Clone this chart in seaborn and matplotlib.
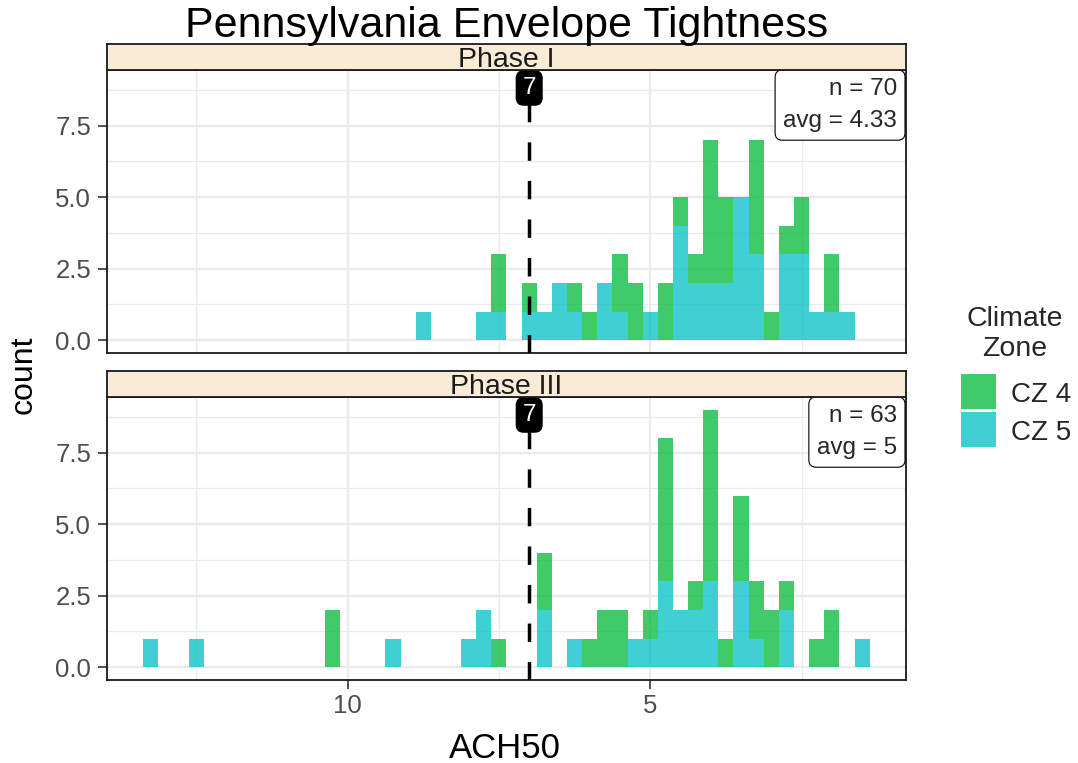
import numpy as np
import pandas as pd
import matplotlib
matplotlib.use("Agg")
import matplotlib.pyplot as plt
from matplotlib.patches import Rectangle
import seaborn as sns

# ---------------- data ----------------
phases = ["Phase I", "Phase III"]
zones = ["CZ 4", "CZ 5"]
zone_colors = ["#00BA38", "#00BFC4"]

# bin centres (ACH50) and counts per climate zone, binwidth 0.25
p1_cz4_ach = [7.5, 7.0, 6.25, 6.0, 5.5, 5.25, 4.75, 4.5, 4.25, 4.0, 3.75, 3.25, 3.0, 2.75, 2.5, 2.0]
p1_cz4_cnt = [2, 1, 1, 1, 2, 2, 2, 1, 1, 5, 3, 4, 1, 1, 2, 2]
p1_cz5_ach = [8.75, 7.75, 7.5, 7.0, 6.75, 6.5, 6.25, 5.75, 5.5, 5.0, 4.5, 4.25, 4.0, 3.75,
              3.5, 3.25, 2.75, 2.5, 2.25, 2.0, 1.75]
p1_cz5_cnt = [1, 1, 1, 1, 1, 2, 1, 2, 1, 1, 4, 2, 2, 2, 5, 3, 3, 3, 1, 1, 1]
p3_cz4_ach = [10.25, 7.5, 6.75, 6.0, 5.75, 5.5, 5.0, 4.75, 4.25, 4.0, 3.75, 3.5, 3.25, 3.0,
              2.75, 2.25, 2.0]
p3_cz4_cnt = [2, 1, 2, 1, 2, 2, 1, 5, 1, 6, 1, 3, 2, 2, 1, 1, 2]
p3_cz5_ach = [13.25, 12.5, 9.25, 8.0, 7.75, 6.75, 6.25, 5.25, 5.0, 4.75, 4.5, 4.25, 4.0, 3.5,
              3.25, 2.75, 1.5]
p3_cz5_cnt = [1, 1, 1, 1, 2, 2, 1, 1, 1, 3, 2, 2, 3, 3, 1, 2, 1]

target_ach = 7
n_labels = [70, 63]
avg_labels = ["4.33", "5"]

x_ticks = [10, 5]
x_ticklabels = ["10", "5"]
y_ticks = [0, 2.5, 5, 7.5]
y_ticklabels = ["0.0", "2.5", "5.0", "7.5"]

# ---------------- table ----------------
rows = []
for ph, (a4, c4, a5, c5) in zip(phases, [(p1_cz4_ach, p1_cz4_cnt, p1_cz5_ach, p1_cz5_cnt),
                                          (p3_cz4_ach, p3_cz4_cnt, p3_cz5_ach, p3_cz5_cnt)]):
    for a, c in zip(a4, c4):
        rows.append((ph, "CZ 4", a, c))
    for a, c in zip(a5, c5):
        rows.append((ph, "CZ 5", a, c))
df = pd.DataFrame(rows, columns=["phase", "zone", "ACH50", "count"])

# ---------------- style ----------------
sns.set_theme(style="white")
plt.rcParams["font.family"] = ["Liberation Sans", "DejaVu Sans"]

W, H = 1078, 763
fig = plt.figure(figsize=(W / 100, H / 100), dpi=100)


def fx(px):
    return px / W


def fy(py):
    return 1 - py / H


L, R = 107, 906
panel_tops = [70, 397]
panel_h = 283
strip_h = 26
grid_c = "#EBEBEB"
tick_fs = 18.5

for i, ph in enumerate(phases):
    top = panel_tops[i]
    ax = fig.add_axes([fx(L), fy(top + panel_h), fx(R) - fx(L), panel_h / H])
    sub = df[df["phase"] == ph]
    sns.histplot(data=sub, x="ACH50", weights="count", hue="zone", hue_order=zones,
                 palette=zone_colors, multiple="stack", binwidth=0.25,
                 binrange=(1.375, 13.375), alpha=0.75,
                 linewidth=0, legend=False, ax=ax, zorder=2)
    ax.set_xlim(13.975, 0.775)
    ax.set_ylim(-0.45, 9.45)
    ax.set_facecolor("white")
    ax.set_axisbelow(True)
    ax.set_xticks(x_ticks)
    ax.set_xticks([12.5, 7.5, 2.5], minor=True)
    ax.set_yticks(y_ticks)
    ax.set_yticks([1.25, 3.75, 6.25, 8.75], minor=True)
    ax.set_yticklabels(y_ticklabels)
    ax.grid(which="major", color=grid_c, lw=1.6, zorder=0)
    ax.grid(which="minor", color=grid_c, lw=0.9, zorder=0)
    ax.tick_params(which="minor", length=0)
    ax.tick_params(axis="y", which="major", length=6.5, width=1.2, color="#333333",
                   pad=5, labelsize=tick_fs, labelcolor="#4D4D4D", left=True)
    if i == len(phases) - 1:
        ax.set_xticklabels(x_ticklabels)
        ax.tick_params(axis="x", which="major", length=6.5, width=1.2, color="#333333",
                       pad=3.5, labelsize=tick_fs, labelcolor="#4D4D4D", bottom=True)
    else:
        ax.tick_params(axis="x", which="major", length=0, labelbottom=False)
    ax.set_xlabel("")
    ax.set_ylabel("")
    for s in ax.spines.values():
        s.set_color("#1A1A1A")
        s.set_linewidth(1.3)
        s.set_visible(True)

    # target line
    ax.axvline(target_ach, color="black", lw=2.5, linestyle=(0, (5.3, 5.8)), zorder=5)
    ax.annotate(str(target_ach), xy=(target_ach, 1), xycoords=("data", "axes fraction"),
                xytext=(0, -7), textcoords="offset pixels", ha="center", va="top",
                color="white", fontsize=17.5, zorder=6,
                bbox=dict(boxstyle="round,pad=0.25,rounding_size=0.3", fc="black", ec="black"))

    # n / avg label
    ax.annotate(f"n = {n_labels[i]}\navg = {avg_labels[i]}", xy=(1, 1),
                xycoords="axes fraction", xytext=(-9, -8), textcoords="offset pixels",
                ha="right", va="top", multialignment="right", fontsize=17.5, linespacing=1.6,
                zorder=6,
                bbox=dict(boxstyle="round,pad=0.33,rounding_size=0.3", fc="white", ec="black",
                          lw=0.8))

    # strip
    sax = fig.add_axes([fx(L), fy(top), fx(R) - fx(L), strip_h / H])
    sax.set_facecolor("#FAEBD7")
    sax.set_xticks([])
    sax.set_yticks([])
    for s in sax.spines.values():
        s.set_color("#1A1A1A")
        s.set_linewidth(1.3)
        s.set_visible(True)
    sax.text(0.5, 0.12, ph, ha="center", va="baseline", fontsize=20.5, color="#1A1A1A",
             transform=sax.transAxes)

# title and axis titles
fig.text(fx(507), fy(37), "Pennsylvania Envelope Tightness", ha="center", va="baseline",
         fontsize=31, color="black")
fig.text(fx(505), fy(758), "ACH50", ha="center", va="baseline", fontsize=25, color="black")
fig.text(fx(24), fy(375), "count", ha="center", va="center", rotation=90, fontsize=23,
         color="black")

# legend (manual)
fig.text(fx(1015), fy(326), "Climate", ha="center", va="baseline", fontsize=20.5)
fig.text(fx(1015), fy(356), "Zone", ha="center", va="baseline", fontsize=20.5)
key_tops = [374, 412]
for zname, zc, kt in zip(zones, zone_colors, key_tops):
    fig.add_artist(Rectangle((fx(961), fy(kt + 35)), 35 / W, 35 / H, transform=fig.transFigure,
                             facecolor=zc, alpha=0.75, edgecolor="none"))
    fig.text(fx(1011), fy(kt + 17.5), zname, ha="left", va="center_baseline", fontsize=20)

fig.savefig("out.png", dpi=100)
